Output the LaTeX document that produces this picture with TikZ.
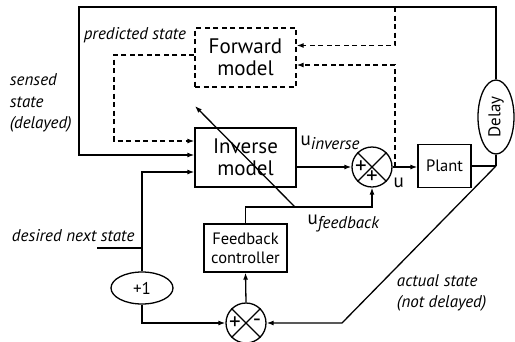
\documentclass[tikz,border=0pt]{standalone}
\usepackage{fontspec}
\setmainfont{PT Sans}
\usetikzlibrary{shapes.geometric, arrows.meta, positioning}
\tikzset{
    block/.style={rectangle, draw, align=center, inner sep=2pt},
    bigblock/.style={block, minimum width=101pt, minimum height=59pt, font=\fontsize{21}{22}\selectfont},
    smallblock/.style={block, font=\fontsize{16.5}{19}\selectfont},
    sumnode/.style={circle, draw, minimum size=40pt, inner sep=0pt},
    signstyle/.style={font=\fontsize{23}{23}\selectfont, inner sep=0pt},
    arrow/.style={-{Latex[length=7pt,width=5pt]}},
    dasharrow/.style={arrow, dash pattern=on 5pt off 3.5pt},
    labelstyle/.style={font=\fontsize{17}{21.5}\selectfont\itshape, align=left},
    ustyle/.style={font=\fontsize{19}{20}\selectfont, inner sep=0pt},
}

\begin{document}
\begin{tikzpicture}[x=1pt, y=-1pt, line width=1.3pt]
\useasboundingbox (0,0) rectangle (515,341);
% blocks
\node[bigblock, dash pattern=on 5pt off 3.5pt] (fwd) at (245.5,57.5) {Forward\\model};
\node[bigblock] (inv) at (245.5,157.5) {Inverse\\model};
\node[smallblock, minimum width=53pt, minimum height=43pt] (plant) at (444.5,166) {Plant};
\node[smallblock, minimum width=83pt, minimum height=48pt] (fb) at (245.5,248) {Feedback\\controller};
\node[ellipse, draw, minimum width=36pt, minimum height=74pt, inner sep=0pt, font=\fontsize{17}{18}\selectfont] (delay) at (496,117) {\rotatebox{90}{Delay}};
\node[ellipse, draw, minimum width=62pt, minimum height=32pt, inner sep=0pt, font=\fontsize{17}{18}\selectfont] (plus) at (142,288) {+1};
% summing junctions
\node[sumnode] (sum1) at (372,167) {};
\node[sumnode] (sum2) at (246,323) {};
\draw (sum1.north east) -- (sum1.south west) (sum1.north west) -- (sum1.south east);
\draw (sum2.north east) -- (sum2.south west) (sum2.north west) -- (sum2.south east);
\node[signstyle] (sum1a) at ([xshift=-11pt]sum1.center) {+};
\node[signstyle] (sum1b) at ([yshift=-10.5pt]sum1.center) {+};
\node[signstyle] (sum2a) at ([xshift=-11pt]sum2.center) {+};
\node[signstyle] (sum2b) at ([xshift=11pt]sum2.center) {-};

% corner points
\coordinate (topL) at (79,7);
\coordinate (predL) at (114,141);
\coordinate (tapT) at (395,7);
\coordinate (tapU) at (395,167);
\coordinate (corner) at (496,166);
\coordinate (bend) at (342,323);
\coordinate (fbk) at (372,207);
\coordinate (adaptS) at (295,207);
\coordinate (adaptE) at (195,106);
\coordinate (des) at (97,248);

% connectors
\draw[arrow] (delay.north) |- (topL) |- ([yshift=2.5pt]inv.west);
\draw[dasharrow] ([yshift=2.5pt]fwd.west) -| (predL) -- ([yshift=16.5pt]inv.west);
\draw[dasharrow] (tapT) |- ([yshift=12pt]fwd.east);
\draw[dasharrow] (tapU) |- ([yshift=-7.5pt]fwd.east);
\draw[arrow] (inv.east |- sum1) -- (sum1.west);
\draw[arrow] (sum1.east) -- (sum1.east -| plant.west);
\draw (plant.east) -- (corner);
\draw (delay.south) -- (corner);
\draw[arrow] (corner) -- (bend) -- (sum2.east);
\draw[arrow] (sum2.north) -- (fb.south);
\draw[arrow] (fb.north) |- (fbk) -- (sum1.south);
\draw[arrow] (adaptS) -- (adaptE);
\draw (des) -- (des -| plus.north);
\draw[arrow] (plus.north) |- ([yshift=-14.5pt]inv.west);
\draw[arrow] (plus.south) |- (sum2.west);

% labels
\node[labelstyle, anchor=east] (predlbl) at (190,35) {predicted state};
\node[labelstyle, anchor=west] (senselbl) at (6,103) {sensed\\state\\(delayed)};
\node[labelstyle, anchor=west] (deslbl) at (8,236) {desired next state};
\node[labelstyle, anchor=west] (actlbl) at (393,293) {actual state\\(not delayed)};
\node[ustyle, anchor=base west] (uinv) at (300,145) {u\raisebox{-4pt}{\fontsize{17}{18}\selectfont\itshape inverse}};
\node[ustyle, anchor=base west] (ufb) at (307,224) {u\raisebox{-4pt}{\fontsize{17}{18}\selectfont\itshape feedback}};
\node[ustyle, anchor=base west] (ulbl) at (393,187) {u};
\end{tikzpicture}
\end{document}
